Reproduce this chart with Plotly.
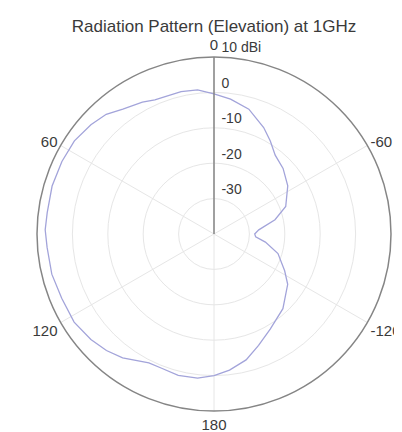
import plotly.graph_objects as go

# Elevation angle (deg, counterclockwise from top) and gain (dBi)
theta_deg = [-180, -173.5, -165.7, -158.2, -149.4, -137.3, -124.3, -117.5, -107, -99, -94, -90,
             -84.7, -76.8, -69, -56.8, -46.5, -37.8, -31.2, -25, -15.6, -7, 0, 6.5, 13, 19.9,
             23.8, 28.5, 36.1, 42, 48.4, 56.3, 64.5, 73.5, 82.7, 88.6, 94.6, 103.9, 112.9,
             122.2, 130.6, 137.3, 143.6, 153.2, 158.7, 165.8, 173.5, 180]
gain_dbi = [0.0, -1.3, -3.3, -6.1, -8.8, -11.3, -14.8, -17.5, -21.1, -25.3, -28.2, -28.5,
            -27.3, -22.3, -18.3, -15.1, -13.1, -11.8, -9.3, -6.8, -3.4, -1.6, -0.4, 1.0, 1.3, 1.2,
            1.4, 2.4, 3.7, 5.5, 6.5, 7.4, 7.6, 7.7, 7.5, 7.7, 7.3, 7.2, 6.7,
            6.7, 5.8, 4.8, 3.5, 0.8, 0.7, 1.2, 1.0, 0.0]

angular_tickvals = [0, 60, 120, 180, 240, 300]
angular_ticktext = ["0", "60", "120", "180", "-120", "-60"]
radial_tickvals = [-30, -20, -10, 0, 10]
radial_ticktext = ["-30", "-20", "-10", "0", "10 dBi"]
title_text = "Radiation Pattern (Elevation) at 1GHz"

fig = go.Figure()
fig.add_trace(go.Scatterpolar(
    r=gain_dbi, theta=theta_deg, mode="lines",
    line=dict(color="#a3a4da", width=1.3),
    showlegend=False,
))

# page body has an 8px margin; work in page pixels and shift
OFF = 8
W, H = 402 - OFF, 432 - OFF
cx, cy, R = 214 - OFF, 234 - OFF, 177
fig.update_layout(
    width=W, height=H,
    margin=dict(l=0, r=0, t=0, b=0),
    paper_bgcolor="white",
    font=dict(family="Liberation Sans, Arial, sans-serif", size=14, color="#3a3a3a"),
    title=dict(text=title_text, x=cx / W, xanchor="center", y=1 - (26 - OFF) / H, yanchor="middle",
               font=dict(size=17, color="#3a3a3a")),
    polar=dict(
        domain=dict(x=[(cx - R) / W, (cx + R) / W], y=[(H - cy - R) / H, (H - cy + R) / H]),
        bgcolor="white",
        angularaxis=dict(
            rotation=90, direction="counterclockwise",
            tickvals=angular_tickvals, ticktext=angular_ticktext,
            showline=True, linecolor="#858585", linewidth=1.5,
            gridcolor="#e6e6e6", gridwidth=1, ticks="",
            tickfont=dict(size=15, color="#3a3a3a"),
        ),
        radialaxis=dict(
            range=[-40, 10], angle=90, side="clockwise",
            tickvals=radial_tickvals,
            # a blank second line lifts each label just above its ring
            ticktext=[" " + t + "<br> " for t in radial_ticktext],
            showline=True, linecolor="#858585", linewidth=1.5,
            gridcolor="#e6e6e6", gridwidth=1, ticks="",
            tickfont=dict(size=14, color="#3a3a3a"),
            tickangle=90,
        ),
    ),
)

fig.write_html("out.html")
